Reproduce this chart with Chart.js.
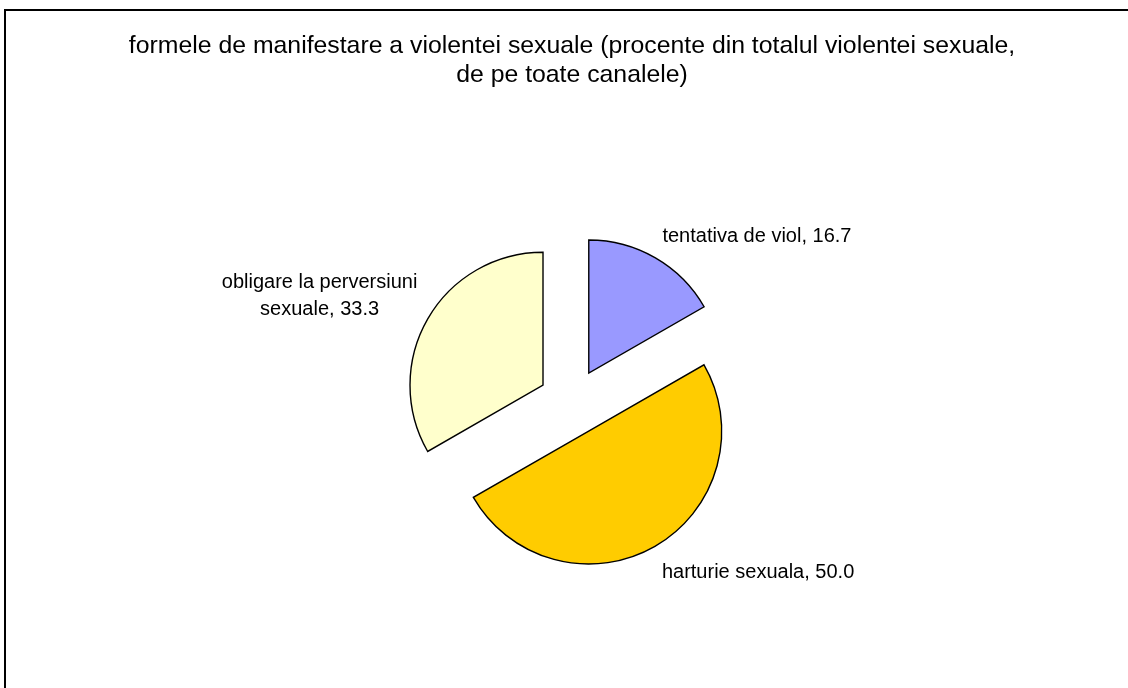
<!DOCTYPE html>
<html>
<head>
<meta charset="utf-8">
<script src="https://cdn.jsdelivr.net/npm/chart.js@4.4.1/dist/chart.umd.min.js"></script>
<style>
    html, body { margin: 0; padding: 0; background: #ffffff; overflow: hidden; }
    #wrap { position: relative; width: 1128px; height: 720px; }
    #frame { position: absolute; left: 4px; top: 9px; width: 1150px; height: 720px; border-left: 2px solid #000000; border-top: 2px solid #000000; }
    #chart { position: absolute; left: 0; top: 0; }
</style>
</head>
<body>
<div id="wrap">
    <div id="frame"></div>
    <canvas id="chart" width="1128" height="720"></canvas>
</div>
<script>
const titleLines = [
    "formele de manifestare a violentei sexuale (procente din totalul violentei sexuale,",
    "de pe toate canalele)"
];
const categories = ["tentativa de viol", "harturie sexuala", ["obligare la perversiuni", "sexuale"]];
const values = [16.7, 50.0, 33.3];
const sliceColors = ["#9999FF", "#FFCC00", "#FFFFCC"];

const FONT = "\"Liberation Sans\", Arial, sans-serif";

// Chart.js grows an exploded slice's radius (a lot for a half circle) and trims its angle;
// undo that so every slice keeps the same radius and is only shifted outwards.
const explodeFix = {
    id: "explodeFix",
    afterDatasetsUpdate(chart) {
        const meta = chart.getDatasetMeta(0);
        meta.data.forEach((arc) => {
            const off = (arc.options.offset || 0) / 4;
            const fix = 1 - Math.sin(Math.min(Math.PI, arc.circumference));
            const grow = off * fix;
            const radius = arc.outerRadius;
            arc.outerRadius = radius - grow;
            const trim = (grow / Math.PI) / radius / 2;
            arc.startAngle -= trim;
            arc.endAngle += trim;
        });
    }
};

// labels outside the slices, like the spreadsheet chart
const sliceLabels = {
    id: "sliceLabels",
    afterDatasetsDraw(chart, args, opts) {
        const ctx = chart.ctx;
        const meta = chart.getDatasetMeta(0);
        const radius = meta.controller.outerRadius;

        ctx.save();
        ctx.fillStyle = "#000000";
        ctx.font = opts.size + "px " + FONT;
        ctx.textBaseline = "alphabetic";

        meta.data.forEach((arc, i) => {
            const half = (arc.startAngle + arc.endAngle) / 2;
            const shift = (arc.options.offset || 0) / 4;
            const dist = shift + radius + opts.gap;
            const ax = arc.x + Math.cos(half) * dist;
            const ay = arc.y + Math.sin(half) * dist;

            const name = categories[i];
            const lines = Array.isArray(name) ? name.slice() : [name];
            lines[lines.length - 1] += ", " + values[i].toFixed(1);

            const nudge = opts.nudges[i];
            ctx.textAlign = nudge.align;
            for (let k = 0; k < lines.length; k++) {
                ctx.fillText(lines[k], ax + nudge.dx, ay + nudge.dy + k * opts.lineHeight);
            }
        });

        ctx.restore();
    }
};

new Chart(document.getElementById("chart"), {
    type: "pie",
    data: {
        labels: categories.map((c) => (Array.isArray(c) ? c.join(" ") : c)),
        datasets: [
            {
                data: values,
                backgroundColor: sliceColors,
                borderColor: "#000000",
                borderWidth: 1.4,
                borderJoinStyle: "miter",
                offset: 134,
                hoverOffset: 0,
                radius: 133
            }
        ]
    },
    options: {
        responsive: false,
        animation: false,
        events: [],
        layout: {
            padding: { left: 16, right: 0, top: 0, bottom: 5.15 }
        },
        plugins: {
            legend: { display: false },
            tooltip: { enabled: false },
            title: {
                display: true,
                text: titleLines,
                color: "#000000",
                font: { family: FONT, size: 24.8, weight: "normal", lineHeight: "28.5px" },
                padding: { top: 32.15, bottom: 0 }
            },
            sliceLabels: {
                size: 20,
                gap: 20,
                lineHeight: 27,
                nudges: [
                    { align: "left", dx: -3, dy: 1 },
                    { align: "left", dx: -3, dy: 14 },
                    { align: "center", dx: -91, dy: -20.5 }
                ]
            }
        }
    },
    plugins: [explodeFix, sliceLabels]
});
</script>
</body>
</html>
